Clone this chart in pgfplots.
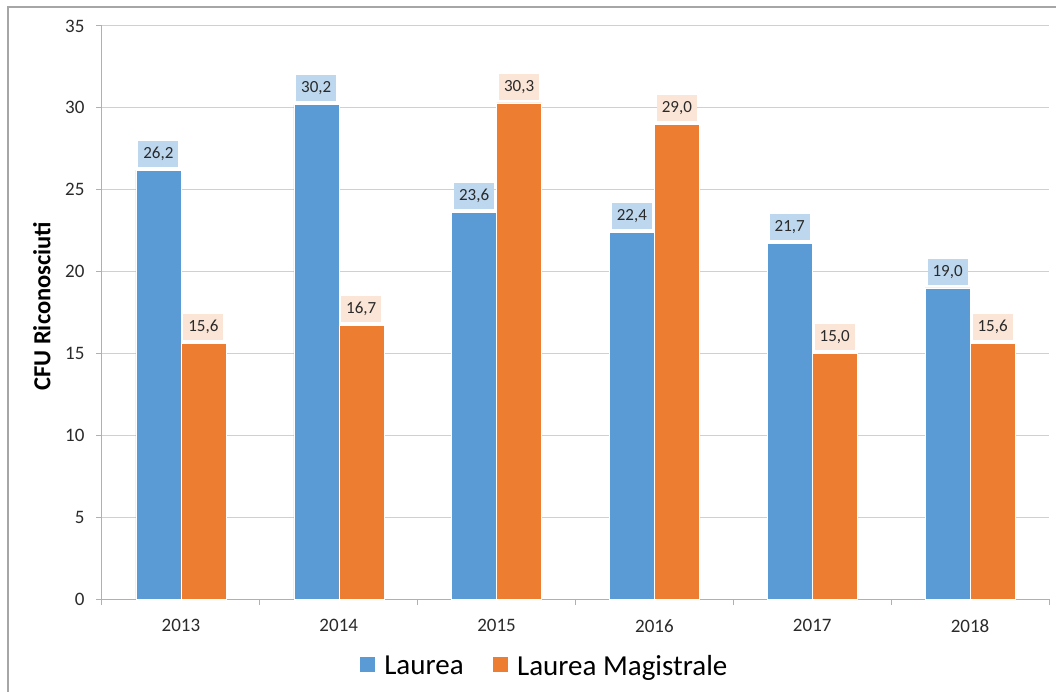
\documentclass[border=0pt]{standalone}
\usepackage{pgfplots}
\pgfplotsset{compat=1.18}
\usetikzlibrary{calc}
\usepackage{fontspec}
\setmainfont{Carlito}
\definecolor{cblue}{HTML}{5B9BD5}
\definecolor{corange}{HTML}{ED7D31}
\definecolor{lblue}{HTML}{BDD7EE}
\definecolor{lorange}{HTML}{FBE5D6}
\definecolor{gridgray}{HTML}{D0D0D0}
\definecolor{axisgray}{HTML}{B0B0B0}
\definecolor{bordergray}{HTML}{A6A6A6}
\definecolor{txt}{HTML}{2A2A2A}
\begin{document}
\begin{tikzpicture}[x=1pt,y=1pt]
\begin{axis}[
  scale only axis, width=947pt, height=573pt,
  xmin=-0.5, xmax=5.5, ymin=0, ymax=35,
  ybar=0pt, bar width=45pt,
  axis x line*=bottom, axis y line*=left,
  axis line style={color=axisgray, line width=1pt, -},
  ytick={0,5,...,35},
  ymajorgrids, grid style={color=gridgray, line width=1pt},
  tick align=outside, major tick length=6pt, minor tick length=6pt,
  tick style={color=axisgray, line width=1pt},
  xtick={0,...,5},
  xticklabels={2013,2014,2015,2016,2017,2018},
  major x tick style={draw=none},
  minor xtick={-0.5,0.5,...,5.5},
  ticklabel style={font=\fontsize{19}{22}\selectfont, text=txt},
  /pgf/number format/assume math mode=true,
  xticklabel style={yshift=-11pt},
  yticklabel style={xshift=-8pt},
  ylabel={CFU Riconosciuti},
  ylabel style={at={(axis description cs:-0.0634,0.511)}, anchor=center, font=\fontsize{24.5}{28}\selectfont\bfseries, text=black},
  nodes near coords={\pgfmathprintnumber[fixed,fixed zerofill,precision=1,use comma,assume math mode=true]{\pgfplotspointmeta}},
  every node near coord/.append style={font=\fontsize{17}{20}\selectfont, text=txt, text height=12pt, text depth=3pt, inner xsep=5pt, inner ysep=5.5pt, yshift=3pt},
  legend style={at={(0.4668,-0.117)}, anchor=center, draw=none, fill=none, legend columns=2,
    font=\fontsize{29}{33}\selectfont, text=black,
    /tikz/every odd column/.append style={column sep=7pt},
    /tikz/every even column/.append style={column sep=26pt}},
  legend image code/.code={\fill[#1] (0pt,-6pt) rectangle (16pt,10pt);},
]
\coordinate (O) at (rel axis cs:0,0);
\addplot[fill=cblue, draw=white, line width=0.5pt, every node near coord/.append style={fill=lblue}]
  coordinates {(0,26.2) (1,30.2) (2,23.6) (3,22.4) (4,21.7) (5,19.0)};
\addplot[fill=corange, draw=white, line width=0.5pt, every node near coord/.append style={fill=lorange}]
  coordinates {(0,15.6) (1,16.7) (2,30.3) (3,29.0) (4,15.0) (5,15.6)};
\legend{Laurea, Laurea Magistrale}
\end{axis}
\draw[color=bordergray, line width=1.3pt] ($(O)+(-94,-100)$) -- ($(O)+(-94,592)$) -- ($(O)+(960,592)$);
\pgfresetboundingbox
\path ($(O)+(-102,-92)$) rectangle ($(O)+(954,599)$);
\end{tikzpicture}
\end{document}
